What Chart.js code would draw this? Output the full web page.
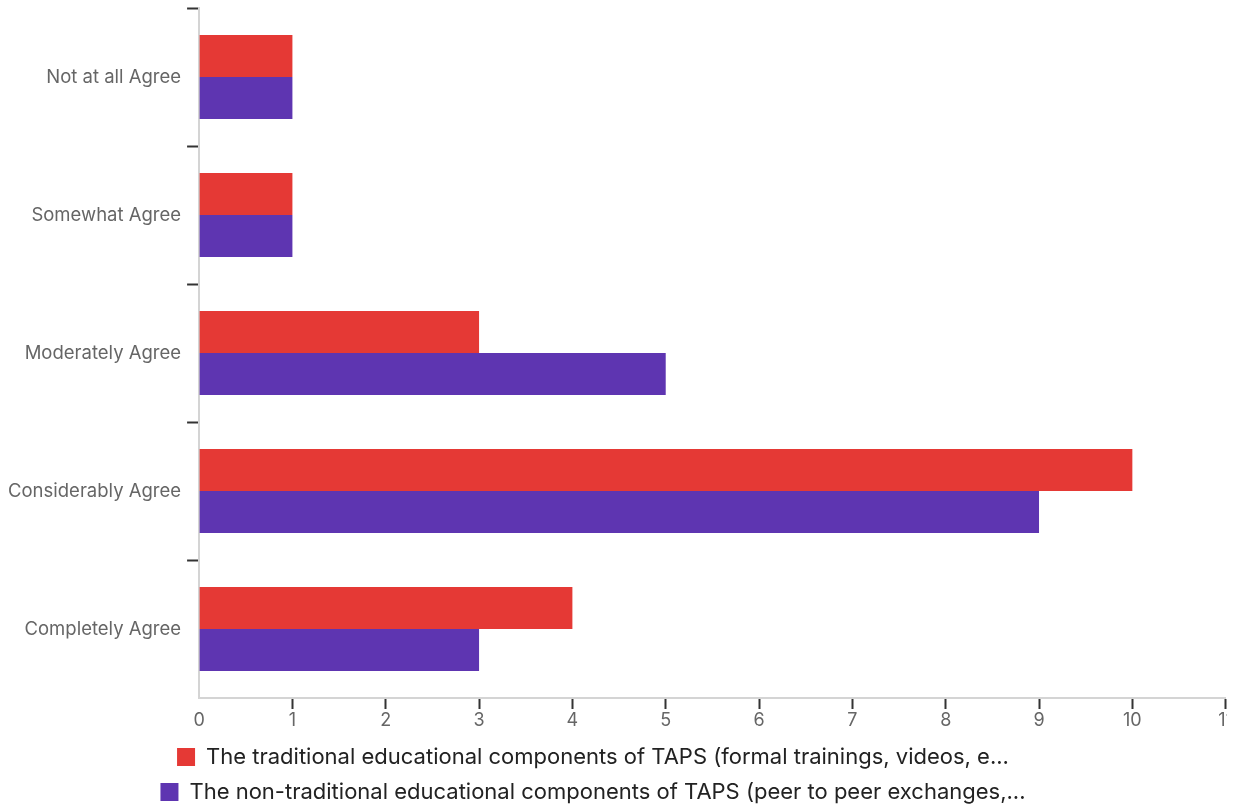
<!DOCTYPE html>
<html>
<head>
<meta charset="utf-8">
<script src="https://cdn.jsdelivr.net/npm/chart.js@4.4.1/dist/chart.umd.min.js"></script>
<style>
    html, body { margin: 0; padding: 0; background: #fff; }
    .chart-wrap { width: 1227px; height: 809px; overflow: hidden; }
    canvas { display: block; }
</style>
</head>
<body>
<div class='chart-wrap'>
    <canvas id="agreeChart" width="1236" height="809"></canvas>
</div>
<script>
const categories = ["Not at all Agree", "Somewhat Agree", "Moderately Agree", "Considerably Agree", "Completely Agree"];
const traditional = [1, 1, 3, 10, 4];
const nonTraditional = [1, 1, 5, 9, 3];
const seriesNames = [
    "The traditional educational components of TAPS (formal trainings, videos, e...",
    "The non-traditional educational components of TAPS (peer to peer exchanges,..."
];
const xMax = 11;

const FONT = "Inter, Roboto, sans-serif";

// legend sits a bit left of the canvas centre
const legendShift = {
    id: "legendShift",
    afterLayout(chart) {
        chart.legend.right -= 52;
    }
};

new Chart(document.getElementById("agreeChart"), {
    type: "bar",
    data: {
        labels: categories,
        datasets: [
            {
                label: seriesNames[0],
                data: traditional,
                backgroundColor: "#e53935"
            },
            {
                label: seriesNames[1],
                data: nonTraditional,
                backgroundColor: "#5e35b1"
            }
        ]
    },
    plugins: [legendShift],
    options: {
        indexAxis: "y",
        responsive: false,
        animation: false,
        categoryPercentage: 0.61,
        barPercentage: 1.0,
        layout: {
            padding: { top: 8, left: 2, bottom: -4 }
        },
        scales: {
            x: {
                min: 0,
                max: xMax,
                ticks: {
                    stepSize: 1,
                    color: "#666",
                    padding: 3,
                    font: { family: FONT, size: 18, lineHeight: 1.0 }
                },
                grid: {
                    drawOnChartArea: false,
                    tickLength: 11,
                    tickWidth: 2,
                    tickColor: function(ctx) {
                        return ctx.index === 0 ? "rgba(0,0,0,0)" : "#333";
                    }
                },
                border: { color: "#d4d4d4", width: 2 }
            },
            y: {
                afterFit(scale) {
                    // bars are offset, labels never overhang the ends
                    scale.paddingTop = 0;
                    scale.paddingBottom = 0;
                },
                ticks: {
                    color: "#666",
                    padding: 6,
                    font: { family: FONT, size: 18.5 }
                },
                grid: {
                    drawOnChartArea: false,
                    tickLength: 12,
                    tickWidth: 2,
                    tickColor: function(ctx) {
                        // the closing line at the bottom has no tick context
                        return ctx.type === "tick" ? "#333" : "rgba(0,0,0,0)";
                    }
                },
                border: { color: "#d4d4d4", width: 2 }
            }
        },
        plugins: {
            tooltip: { enabled: false },
            legend: {
                position: "bottom",
                labels: {
                    boxWidth: 18,
                    boxHeight: 18,
                    padding: 13,
                    color: "#222",
                    font: { family: FONT, size: 22 }
                }
            }
        }
    }
});
</script>
</body>
</html>
